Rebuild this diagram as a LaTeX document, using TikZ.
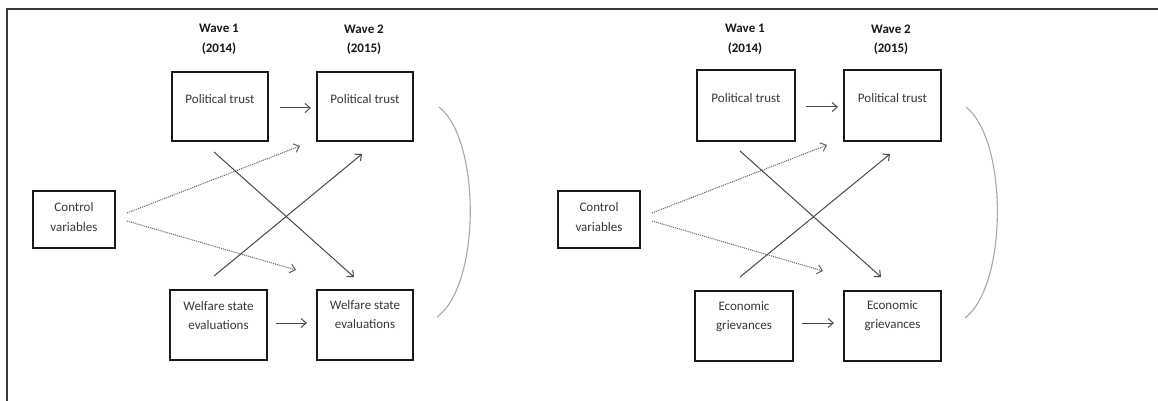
\documentclass[tikz,border=0pt]{standalone}
\usepackage{fontspec}
\setmainfont{Carlito}
\usetikzlibrary{arrows.meta}
\definecolor{frame}{HTML}{3A3A3A}
\definecolor{txt}{HTML}{383838}
\definecolor{arr}{HTML}{484848}
\definecolor{dot}{HTML}{606060}
\definecolor{brk}{HTML}{A8A8A8}
\tikzset{
  varbox/.style={draw=black!90, line width=2.3pt, rectangle, inner sep=0pt},
  boxtext/.style={text=txt, align=center, font=\fontsize{13}{19.5}\selectfont, inner sep=0pt},
  headtext/.style={text=black!90, align=center, font=\bfseries\fontsize{13}{19.5}\selectfont, inner sep=0pt},
  solidarrow/.style={draw=arr, line width=1pt, -{Straight Barb[length=5pt,width=9pt,line width=1pt]}},
  dotarrow/.style={draw=dot, line width=1pt, densely dotted, -{Straight Barb[length=5pt,width=9pt,line width=1pt]}},
  bracket/.style={draw=brk, line width=1.1pt},
  framestyle/.style={draw=frame, line width=1.6pt}
}
\begin{document}
\begin{tikzpicture}[x=1pt,y=-1pt]
\useasboundingbox (0,0) rectangle (1158,401);
\fill[white] (0,0) rectangle (1158,401);
% frame
\coordinate (fr1) at (7,401);
\coordinate (fr2) at (7,9);
\coordinate (fr3) at (1158,9);
\draw[framestyle] (fr1) -- (fr2) -- (fr3);

% ===== Left panel =====
\node[headtext] (lw1) at (219,39.5) {Wave 1\\(2014)};
\node[headtext] (lw2) at (364,39.5) {Wave 2\\(2015)};

\node[varbox, minimum width=96pt, minimum height=69pt] (lpt1) at (220,106.5) {};
\node[varbox, minimum width=96pt, minimum height=69pt] (lpt2) at (365,106.5) {};
\node[varbox, minimum width=82pt, minimum height=57pt] (lcv) at (74,219.5) {};
\node[varbox, minimum width=97pt, minimum height=70pt] (lw1b) at (218.5,325) {};
\node[varbox, minimum width=96pt, minimum height=70pt] (lw2b) at (365,325) {};

\node[boxtext] (lpt1t) at (220,99) {Political trust};
\node[boxtext] (lpt2t) at (365,99) {Political trust};
\node[boxtext] (lcvt) at (74,217) {Control\\variables};
\node[boxtext] (lw1t) at (218.5,315.5) {Welfare state\\evaluations};
\node[boxtext] (lw2t) at (365,314.5) {Welfare state\\evaluations};

\draw[solidarrow, shorten <=11pt, shorten >=5pt] (lpt1.east |- 0,108) -- (lpt2.west |- 0,108);
\draw[solidarrow, shorten <=8pt, shorten >=9pt] (lw1b.east |- 0,323) -- (lw2b.west |- 0,323);

\coordinate (lc1) at (127,213);
\coordinate (lc2) at (127,221);
\coordinate (lt1) at (300,146);
\coordinate (lt2) at (296,270);
\draw[dotarrow] (lc1) -- (lt1);
\draw[dotarrow] (lc2) -- (lt2);

\coordinate (lx1s) at (214,152);
\coordinate (lx1e) at (354,277);
\coordinate (lx2s) at (214,276);
\coordinate (lx2e) at (362,154);
\draw[solidarrow] (lx1s) -- (lx1e);
\draw[solidarrow] (lx2s) -- (lx2e);

\coordinate (lb1) at (439,107);
\coordinate (lb2) at (437,317);
\draw[bracket] (lb1) .. controls (481,140) and (481,285) .. (lb2);

% ===== Right panel =====
\node[headtext] (rw1) at (745,39.5) {Wave 1\\(2014)};
\node[headtext] (rw2) at (891,39.5) {Wave 2\\(2015)};

\node[varbox, minimum width=98pt, minimum height=71pt] (rpt1) at (746,105.5) {};
\node[varbox, minimum width=97pt, minimum height=71pt] (rpt2) at (892.5,105.5) {};
\node[varbox, minimum width=82pt, minimum height=57pt] (rcv) at (599,219.5) {};
\node[varbox, minimum width=98pt, minimum height=70pt] (rg1) at (744,326) {};
\node[varbox, minimum width=97pt, minimum height=70pt] (rg2) at (892.5,326) {};

\node[boxtext] (rpt1t) at (746,98) {Political trust};
\node[boxtext] (rpt2t) at (892.5,98) {Political trust};
\node[boxtext] (rcvt) at (599,217) {Control\\variables};
\node[boxtext] (rg1t) at (744,316.5) {Economic\\grievances};
\node[boxtext] (rg2t) at (892.5,315.5) {Economic\\grievances};

\draw[solidarrow, shorten <=10pt, shorten >=5pt] (rpt1.east |- 0,107) -- (rpt2.west |- 0,107);
\draw[solidarrow, shorten <=8pt, shorten >=9pt] (rg1.east |- 0,323) -- (rg2.west |- 0,323);

\coordinate (rc1) at (652,213);
\coordinate (rc2) at (652,221);
\coordinate (rt1) at (827,145);
\coordinate (rt2) at (823,271);
\draw[dotarrow] (rc1) -- (rt1);
\draw[dotarrow] (rc2) -- (rt2);

\coordinate (rx1s) at (740,151);
\coordinate (rx1e) at (881,277);
\coordinate (rx2s) at (740,277);
\coordinate (rx2e) at (890,154);
\draw[solidarrow] (rx1s) -- (rx1e);
\draw[solidarrow] (rx2s) -- (rx2e);

\coordinate (rb1) at (966,107);
\coordinate (rb2) at (965,318);
\draw[bracket] (rb1) .. controls (1008,140) and (1008,285) .. (rb2);
\end{tikzpicture}
\end{document}
